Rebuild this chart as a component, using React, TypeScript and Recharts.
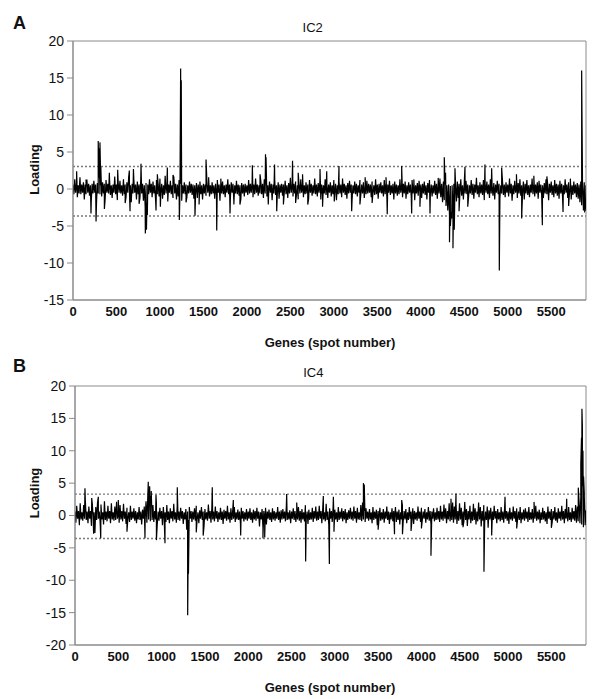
import { Line, LineChart, ReferenceArea, ReferenceLine, XAxis, YAxis } from "recharts";

// loading read every 10 spots (spot 0, 10, 20 ... 5900)
const SPOT_STEP = 10;
const SPOT_MAX = 5900;

const spotTicks = [0, 500, 1000, 1500, 2000, 2500, 3000, 3500, 4000, 4500, 5000, 5500];
const ic2Ticks = [-15, -10, -5, 0, 5, 10, 15, 20];
const ic4Ticks = [-20, -15, -10, -5, 0, 5, 10, 15, 20];

// dotted cut-off lines
const ic2Cutoffs = [3.05, -3.65];
const ic4Cutoffs = [3.3, -3.55];

const ic2Noise = [
  0.6, -0.7, 1.3, -0.5, 0.7, -1.1, 0.5, -0.6, 1.6, -0.7, 0.6, -0.5, 0.9, -1.4, 0.6, -0.7, 1.2, -0.5, 0.7, -0.9,
  0.5, -1.7, 0.7, -0.6, 1.1, -0.5, 0.6, -2.0, 0.8, -0.6, 1.5, -0.7, 0.5, -1.0, 0.9, -0.6, 0.7, -1.3, 1.2, -0.5,
  0.7, -0.6, 1.4, -0.8, 0.5, -1.2, 0.6, -0.5, 1.7, -0.7, 0.6, -1.5, 0.8, -0.5, 1.1, -0.6, 0.5, -0.9, 1.3, -0.7,
  0.6, -1.1, 0.9, -0.5, 1.6, -0.7, 0.5, -1.8, 0.7, -0.6, 1.2, -0.5, 0.6, -1.4, 1.0, -0.7, 0.6, -1.2, 1.5, -0.6,
  0.7, -1.6, 0.5, -2.4, 0.8, -1.9, 0.6, -0.7, 1.3, -0.5, 0.7, -1.1, 1.0, -0.6, 0.5, -1.5, 1.2, -0.7, 0.6, -1.0,
  1.4, -0.6, 0.7, -1.3, 0.5, -0.8, 1.8, -0.6, 0.7, -1.7, 0.6, -0.5, 1.1, -0.7, 0.5, -1.2, 1.6, -0.6, 0.7, -1.4,
  0.6, -1.0, 1.2, -0.5, 0.7, -1.6, 0.5, -0.6, 0.9, -0.7, 0.6, -1.1, 0.5, -0.6, 1.0, -0.5, 0.7, -0.8, 0.6, -1.3,
  0.5, -0.7, 0.8, -1.2, 0.6, -0.5, 1.0, -0.7, 0.5, -1.4, 0.7, -0.6, 0.6, -0.9, 1.1, -0.5, 0.6, -1.0, 0.5, -0.7,
  0.9, -0.6, 0.5, -1.3, 0.7, -0.8, 1.2, -0.5, 0.6, -1.6, 0.8, -0.6, 1.0, -0.7, 0.5, -1.1, 0.6, -0.5, 1.3, -0.7,
  0.6, -1.2, 0.9, -0.5, 0.7, -1.7, 0.5, -0.6, 1.1, -0.7, 0.6, -0.9, 0.5, -1.4, 0.8, -0.6, 0.6, -1.0, 0.7, -0.5,
  0.5, -0.8, 1.2, -0.6, 0.7, -0.5, 0.9, -1.1, 0.6, -0.7, 1.4, -0.5, 0.6, -0.9, 0.5, -0.6, 1.1, -0.7, 0.7, -1.2,
  1.3, -0.6, 0.6, -1.0, 0.5, -0.7, 1.0, -0.5, 0.7, -1.5, 0.6, -0.6, 1.2, -0.8, 0.5, -0.6, 0.9, -1.3, 0.6, -0.5,
  0.7, -0.9, 0.6, -0.5, 1.1, -0.7, 0.5, -1.2, 0.8, -0.6, 1.5, -0.5, 0.6, -1.0, 0.7, -0.6, 1.0, -0.8, 0.5, -1.4,
  0.6, -0.6, 1.3, -0.5, 0.7, -1.1, 0.5, -0.7, 0.9, -0.6, 0.6, -1.3, 1.2, -0.5, 0.7, -0.9, 0.5, -0.6, 1.4, -0.7,
  0.6, -1.0, 0.8, -0.5, 1.1, -1.4, 0.6, -0.7, 0.5, -0.6, 1.3, -0.8, 0.7, -1.2, 0.6, -0.5, 0.9, -1.0, 0.5, -0.7,
  1.2, -0.6, 0.7, -1.5, 0.5, -0.7, 1.0, -0.6, 0.6, -1.1, 1.4, -0.5, 0.7, -0.8, 0.5, -1.3, 0.8, -0.6, 1.1, -0.5,
  0.6, -1.4, 0.5, -0.6, 1.0, -0.7, 0.7, -1.0, 0.5, -0.5, 1.2, -0.8, 0.6, -0.6, 0.9, -1.2, 0.5, -0.7, 1.1, -0.6,
  0.7, -0.5, 0.6, -1.1, 1.0, -0.6, 0.5, -0.8, 1.3, -0.7, 0.6, -1.3, 0.7, -0.5, 0.9, -0.6, 0.5, -1.0, 1.2, -0.7,
  0.8, -1.2, 0.6, -0.5, 1.1, -0.8, 0.5, -0.6, 0.7, -1.4, 1.0, -0.6, 0.6, -0.9, 0.5, -0.7, 1.3, -0.5, 0.6, -1.1,
  0.7, -0.6, 1.0, -1.3, 0.5, -0.7, 0.9, -0.5, 0.6, -1.0, 1.2, -0.6, 0.7, -1.5, 0.5, -0.6, 0.8, -0.9, 1.1, -0.5,
  0.6, -1.2, 0.7, -0.6, 1.0, -0.8, 0.5, -1.4, 0.8, -0.5, 1.2, -0.7, 0.6, -1.0, 0.5, -0.6, 1.1, -0.8, 0.7, -1.3,
  0.9, -0.6, 1.4, -1.1, 0.7, -1.8, 1.0, -1.5, 0.6, -2.3, 0.5, -2.9, 0.6, -3.6, 0.4, -3.1, 0.5, -2.6, 0.7, -2.0,
  0.6, -1.7, 1.0, -1.2, 0.7, -0.6, 1.3, -0.9, 0.5, -1.4, 0.8, -0.6, 1.1, -0.7, 0.6, -1.0, 0.5, -0.6, 1.2, -0.8,
  0.7, -1.3, 0.6, -0.5, 1.5, -0.7, 0.5, -1.1, 0.9, -0.6, 0.6, -0.8, 1.2, -1.5, 0.7, -0.5, 1.0, -0.7, 0.6, -1.2,
  1.3, -0.6, 0.5, -0.9, 0.8, -1.4, 0.6, -0.5, 1.1, -0.7, 0.7, -1.2, 0.5, -0.6, 1.0, -0.8, 0.6, -1.1, 0.9, -0.5,
  0.6, -1.0, 1.4, -0.6, 0.7, -1.6, 0.5, -0.7, 1.1, -0.5, 0.6, -1.2, 0.8, -0.6, 1.3, -0.9, 0.5, -0.7, 1.0, -1.4,
  0.7, -0.6, 1.2, -0.8, 0.5, -1.1, 0.6, -0.5, 1.4, -0.7, 0.7, -1.0, 0.6, -0.6, 0.9, -1.3, 1.1, -0.5, 0.6, -0.8,
  0.5, -1.2, 0.8, -0.6, 1.3, -0.7, 0.6, -1.5, 0.7, -0.5, 1.0, -0.8, 0.5, -1.1, 1.2, -0.6, 0.7, -0.9, 0.6, -1.3,
  1.1, -0.6, 0.7, -1.0, 0.5, -0.7, 1.3, -0.5, 0.6, -1.2, 0.9, -0.6, 0.7, -1.4, 0.5, -0.8, 1.0, -0.6, 0.6, -1.1,
  0.8, -1.3, 0.6, -1.8, 1.0, -2.2, 0.7, -2.6, 0.9, -2.9, 0.5,
];

const ic2PeakSpots = [
  42, 150, 207, 265, 290, 300, 310, 320, 361, 418, 514, 600, 648, 656, 695, 760, 782,
  832, 845, 855, 955, 970, 1005, 1085, 1150, 1223, 1238, 1245, 1300, 1403, 1450, 1530,
  1560, 1653, 1700, 1806, 1850, 1920, 2063, 2151, 2214, 2220, 2246, 2318, 2343, 2420,
  2525, 2560, 2590, 2640, 2700, 2841, 2870, 2918, 3005, 3059, 3205, 3300, 3360, 3440,
  3600, 3614, 3780, 3895, 3920, 3990, 4106, 4200, 4270, 4285, 4330, 4340, 4355, 4370,
  4385, 4393, 4440, 4508, 4540, 4738, 4815, 4903, 4930, 5100, 5160, 5300, 5398, 5450,
  5636, 5700, 5720, 5850, 5870, 5885, 5895,
];
const ic2PeakLoadings = [
  2.4, 1.2, -3.3, -4.4, 6.5, 5.5, 6.3, 3.0, -2.7, 2.2, 2.6, -1.9, 2.5, -3.0, 2.7, -2.0, 3.4,
  -6.0, -5.5, -3.5, -2.9, 2.0, -2.4, 2.9, 1.9, -4.2, 16.3, 14.7, -1.8, -3.6, -2.1, 4.0,
  1.6, -5.6, 1.4, -3.3, -2.1, -2.1, 3.2, 2.0, 4.7, 4.3, -2.1, 3.3, -3.0, -2.1,
  3.8, -1.9, 2.2, 2.0, -2.1, 2.7, -2.4, 2.4, -1.7, 3.1, -3.0, -2.1, 1.6, -1.9,
  1.6, -3.4, 3.1, -3.3, 1.3, -2.4, -3.3, 1.5, 4.3, 2.2, -7.2, -5.0, -4.0, -8.0,
  -5.5, 2.8, -3.0, 3.0, -2.4, 3.3, 2.8, -11.0, 2.9, 2.0, -4.0, 1.8, -4.9, 1.7,
  -3.1, -2.3, 1.4, 16.0, -2.9, -3.0, -2.5,
];

const ic4Noise = [
  0.6, -1.1, 1.5, -0.5, 0.7, -1.3, 1.9, -0.6, 0.5, -0.8, 1.6, -0.5, 2.1, -0.7, 0.6, -1.2, 1.4, -0.5, 0.7, -1.6,
  1.8, -0.6, 0.5, -2.2, 1.3, -0.7, 2.0, -0.5, 0.6, -1.0, 1.7, -0.6, 0.5, -1.4, 2.2, -0.7, 0.6, -0.9, 1.5, -0.5,
  0.7, -1.2, 1.9, -0.6, 0.5, -0.8, 1.4, -0.7, 2.1, -0.5, 0.6, -1.1, 1.6, -0.6, 0.7, -0.9, 1.8, -0.5, 0.6, -1.3,
  1.2, -0.6, 0.5, -1.0, 1.5, -0.7, 0.6, -0.5, 1.1, -0.8, 0.7, -1.2, 0.5, -0.6, 1.3, -0.7, 0.6, -1.4, 0.9, -0.5,
  1.4, -0.7, 2.2, -1.1, 2.8, -0.6, 3.4, -0.9, 2.5, -0.7, 1.6, -1.0, 0.7, -0.6, 1.9, -1.3, 0.6, -0.8, 1.2, -0.5,
  0.7, -1.5, 1.3, -0.6, 0.5, -1.0, 1.6, -0.7, 0.6, -1.2, 1.1, -0.5, 0.7, -0.9, 1.8, -0.6, 0.5, -1.1, 1.4, -0.7,
  0.6, -0.8, 1.2, -0.5, 0.7, -1.3, 0.5, -0.6, 1.0, -2.2, 0.6, -0.7, 1.3, -0.5, 0.7, -1.0, 0.6, -0.6, 1.1, -0.8,
  1.5, -0.6, 0.5, -1.2, 0.8, -0.5, 1.3, -0.7, 0.6, -1.6, 1.0, -0.6, 0.5, -0.8, 1.7, -0.5, 0.7, -1.1, 1.2, -0.6,
  0.6, -0.9, 1.4, -0.5, 0.7, -1.0, 0.5, -0.6, 1.2, -0.7, 0.6, -1.3, 0.9, -0.5, 0.7, -0.8, 1.5, -0.6, 0.5, -1.1,
  1.1, -0.7, 0.6, -0.5, 1.3, -1.0, 0.5, -0.6, 0.9, -0.7, 0.6, -1.2, 1.2, -0.5, 0.7, -0.9, 0.5, -0.6, 1.0, -0.8,
  0.6, -0.5, 1.1, -0.7, 0.5, -1.1, 0.9, -0.6, 0.7, -0.8, 1.2, -0.5, 0.6, -1.7, 0.5, -0.6, 1.0, -1.9, 0.7, -0.6,
  1.2, -1.4, 0.6, -0.5, 0.9, -0.7, 0.5, -1.0, 1.1, -0.6, 0.7, -0.8, 0.5, -0.5, 1.3, -0.7, 0.6, -1.1, 0.8, -0.6,
  1.0, -0.5, 0.6, -0.9, 1.4, -0.7, 0.5, -0.6, 0.8, -1.2, 0.6, -0.5, 1.1, -0.7, 0.7, -1.0, 0.5, -0.6, 1.3, -0.8,
  0.7, -1.1, 1.0, -0.6, 0.5, -0.9, 1.6, -0.5, 0.6, -1.3, 0.9, -0.7, 0.5, -0.6, 1.2, -1.0, 0.7, -0.5, 1.4, -0.8,
  0.6, -0.7, 1.5, -0.5, 0.7, -1.2, 1.0, -0.6, 0.5, -0.9, 1.8, -0.7, 0.6, -1.4, 1.1, -0.5, 0.7, -1.0, 1.3, -0.6,
  0.9, -0.6, 0.5, -1.0, 1.3, -0.7, 0.6, -0.5, 1.1, -0.9, 0.7, -0.6, 1.0, -1.2, 0.5, -0.7, 0.8, -0.5, 1.2, -0.6,
  0.6, -0.8, 1.4, -0.5, 0.7, -1.1, 1.2, -0.6, 0.5, -0.7, 1.6, -0.9, 2.0, -0.6, 0.7, -1.0, 1.1, -0.5, 0.6, -0.8,
  1.0, -0.6, 0.5, -1.2, 1.3, -0.7, 0.6, -0.5, 0.9, -1.5, 0.7, -0.6, 1.2, -0.8, 0.5, -0.6, 1.0, -1.1, 0.6, -0.5,
  1.4, -0.7, 0.6, -1.3, 0.5, -0.6, 1.1, -0.9, 0.7, -0.5, 1.3, -1.0, 0.6, -0.7, 0.9, -1.4, 0.5, -0.6, 1.6, -0.8,
  0.7, -0.6, 1.0, -1.2, 0.5, -0.7, 1.3, -0.5, 0.6, -0.9, 1.1, -1.3, 0.7, -0.6, 0.5, -0.8, 1.4, -0.5, 0.6, -1.0,
  1.2, -0.7, 0.6, -0.5, 1.0, -1.1, 0.5, -0.6, 1.3, -0.8, 0.7, -1.4, 0.6, -0.5, 1.1, -0.9, 0.5, -0.7, 1.2, -0.6,
  0.7, -1.0, 1.5, -0.6, 0.6, -0.8, 1.7, -0.5, 1.1, -1.2, 0.7, -0.6, 1.9, -0.9, 0.6, -0.7, 2.0, -1.1, 1.4, -0.6,
  1.6, -1.3, 0.7, -0.8, 1.9, -0.6, 1.2, -1.5, 0.6, -0.9, 2.1, -0.7, 1.0, -1.6, 0.7, -0.6, 1.5, -1.2, 0.6, -0.8,
  1.8, -0.7, 1.1, -1.4, 0.6, -0.9, 2.0, -0.6, 1.3, -1.7, 0.7, -0.8, 1.6, -1.1, 0.6, -0.7, 1.4, -1.9, 0.8, -0.6,
  1.2, -1.0, 0.6, -0.7, 1.5, -0.5, 0.7, -1.2, 1.0, -0.6, 0.5, -0.9, 1.3, -0.7, 0.6, -1.1, 1.1, -0.5, 0.7, -0.8,
  0.6, -1.3, 1.2, -0.6, 0.5, -0.8, 1.4, -0.5, 0.7, -1.0, 1.1, -0.6, 0.6, -0.7, 1.3, -1.2, 0.5, -0.6, 0.9, -0.8,
  1.1, -0.5, 0.6, -1.0, 1.3, -0.7, 0.5, -0.6, 1.0, -1.1, 0.7, -0.5, 1.5, -0.8, 0.6, -0.6, 0.9, -1.2, 0.5, -0.7,
  1.2, -0.6, 0.7, -0.9, 0.5, -1.3, 1.4, -0.5, 0.6, -0.7, 1.0, -1.0, 0.7, -0.6, 1.3, -0.8, 0.5, -1.1, 1.1, -0.5,
  0.6, -0.8, 1.5, -0.6, 0.7, -1.2, 1.0, -0.5, 0.6, -0.9, 1.3, -0.7, 0.5, -1.0, 1.2, -0.6, 0.7, -0.8, 1.6, -1.1,
  1.4, -0.9, 2.2, -1.2, 2.8, -1.4, 4.5, -1.8, 3.6, -1.5, 0.8,
];

const ic4PeakSpots = [
  50, 115, 193, 215, 230, 269, 297, 500, 600, 808, 846, 855, 862, 870, 880, 935, 940,
  1039, 1181, 1301, 1310, 1400, 1480, 1585, 1828, 1913, 2170, 2190, 2444, 2560, 2663,
  2867, 2937, 2983, 2990, 3330, 3340, 3500, 3689, 3772, 3781, 3880, 4000, 4110, 4341,
  4399, 4480, 4722, 4811, 4965, 5100, 5300, 5500, 5677, 5811, 5840, 5848, 5853, 5858,
  5865, 5872, 5880, 5890,
];
const ic4PeakLoadings = [
  -1.5, 4.2, 2.7, -2.8, -2.7, 2.9, -3.5, 2.4, -2.5, -3.5, 5.2, 3.5, 4.5, 3.0, 3.8, 3.2, -3.8,
  -4.3, 4.35, -15.4, -9.0, -2.6, -3.1, 4.35, 2.4, -3.1, -3.5, -3.4, 3.3, 2.0, -7.1,
  3.0, -7.5, 2.9, -2.5, 5.0, 4.8, -2.2, -2.9, 2.4, -2.9, -2.4, -2.0, -6.2, 2.6,
  3.4, -1.8, -8.7, -3.1, 2.9, -2.0, 2.1, -1.9, 2.6, 4.3, 8.0, 12.0, 16.5, 14.0,
  10.0, 6.0, 3.0, -1.5,
];

type Point = { spot: number; loading: number };

function buildSeries(noise: number[], peakSpots: number[], peakLoadings: number[]): Point[] {
  const pts: Point[] = noise.map((v, i) => ({ spot: i * SPOT_STEP, loading: v }));
  peakSpots.forEach((s, i) => pts.push({ spot: s, loading: peakLoadings[i] }));
  return pts.sort((a, b) => a.spot - b.spot);
}

const ic2Data = buildSeries(ic2Noise, ic2PeakSpots, ic2PeakLoadings);
const ic4Data = buildSeries(ic4Noise, ic4PeakSpots, ic4PeakLoadings);

const GRAY = "#8a8a8a";
const FONT = "'Liberation Sans', Arial, sans-serif";

interface PanelProps {
  data: Point[];
  yTicks: number[];
  cutoffs: number[];
  top: number;
  height: number;
  axisWidth: number;
  bottom: number;
}

function LoadingPanel({ data, yTicks, cutoffs, top, height, axisWidth, bottom }: PanelProps) {
  const yMin = yTicks[0];
  const yMax = yTicks[yTicks.length - 1];
  return (
    <div style={{ position: "absolute", left: 0, top }}>
      <LineChart width={600} height={height} data={data} margin={{ top: 41, right: 14, bottom, left: 0 }}>
        <XAxis
          dataKey="spot"
          type="number"
          domain={[0, SPOT_MAX]}
          ticks={spotTicks}
          allowDataOverflow
          interval={0}
          tickLine={false}
          tickSize={6}
          tickMargin={1}
          axisLine={{ stroke: GRAY }}
          tick={{ fill: "#111", fontSize: 13, fontWeight: 700 }}
          height={30}
        />
        <YAxis
          type="number"
          domain={[yMin, yMax]}
          ticks={yTicks}
          interval={0}
          width={axisWidth}
          tickSize={6}
          tickMargin={3}
          tickLine={{ stroke: GRAY }}
          axisLine={{ stroke: GRAY }}
          tick={{ fill: "#111", fontSize: 14 }}
        />
        <ReferenceArea x1={0} x2={SPOT_MAX} y1={yMin} y2={yMax} fill="none" stroke={GRAY} strokeWidth={1} />
        {cutoffs.map((c) => (
          <ReferenceLine key={c} y={c} stroke="#7a7a7a" strokeWidth={1.4} strokeDasharray="2 2" />
        ))}
        <Line
          type="linear"
          dataKey="loading"
          stroke="#000"
          strokeWidth={1.2}
          dot={false}
          activeDot={false}
          isAnimationActive={false}
        />
      </LineChart>
    </div>
  );
}

export default function App() {
  return (
    <div style={{ position: "absolute", left: 0, top: 0, width: 600, height: 699, background: "#fff", fontFamily: FONT }}>
      <LoadingPanel data={ic2Data} yTicks={ic2Ticks} cutoffs={ic2Cutoffs} top={0} height={340} axisWidth={73} bottom={10} />
      <LoadingPanel data={ic4Data} yTicks={ic4Ticks} cutoffs={ic4Cutoffs} top={345} height={345} axisWidth={75} bottom={15} />
      <svg width={600} height={699} style={{ position: "absolute", left: 0, top: 0, pointerEvents: "none" }}>
        <g fill="#111" fontFamily={FONT}>
          <text x={13} y={28.5} fontSize={18} fontWeight={700}>A</text>
          <text x={312.7} y={32.3} fontSize={13} textAnchor="middle">IC2</text>
          <text x={330} y={346.7} fontSize={13} fontWeight={700} textAnchor="middle">Genes (spot number)</text>
          <text transform="translate(39,169.5) rotate(-90)" fontSize={13} fontWeight={700} textAnchor="middle">Loading</text>
          <text x={13} y={371.7} fontSize={18} fontWeight={700}>B</text>
          <text x={313.3} y={377.3} fontSize={13} textAnchor="middle">IC4</text>
          <text x={330} y={692} fontSize={13} fontWeight={700} textAnchor="middle">Genes (spot number)</text>
          <text transform="translate(39,493) rotate(-90)" fontSize={13} fontWeight={700} textAnchor="middle">Loading</text>
        </g>
      </svg>
    </div>
  );
}
